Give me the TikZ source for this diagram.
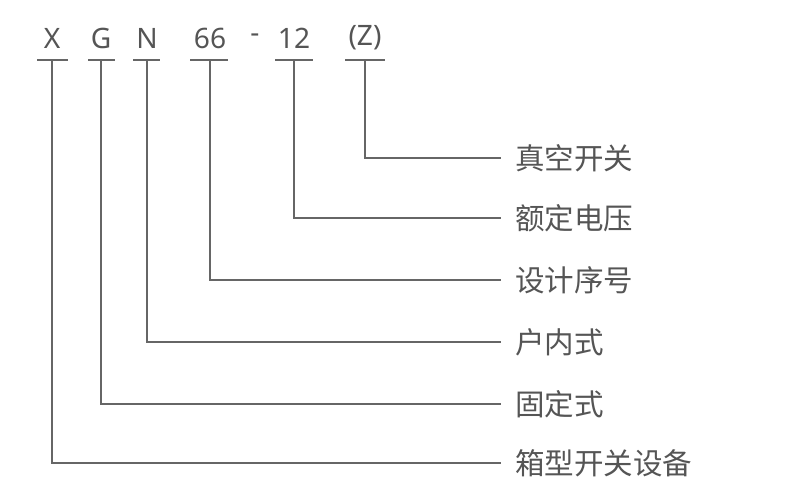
\documentclass[tikz,border=0pt]{standalone}
\usepackage{fontspec}
\setmainfont{Noto Sans}
\newfontfamily\cjk{Noto Sans CJK SC}
\definecolor{txtgray}{HTML}{555555}
\definecolor{linegray}{HTML}{666666}
\begin{document}
\begin{tikzpicture}[x=0.025cm,y=-0.025cm,
    code/.style={text=txtgray,font=\fontsize{20}{24}\selectfont,inner sep=0pt},
    lbl/.style={text=txtgray,font=\cjk\fontsize{21}{24}\selectfont,anchor=west,inner sep=0pt},
    bar/.style={draw=linegray,line width=0.9pt}]
    \useasboundingbox (0,0) rectangle (800,500);
    % type code
    \node[code] (cx) at (52,38) {X};
    \node[code] (cg) at (101,38) {G};
    \node[code] (cn) at (147,38) {N};
    \node[code] (c66) at (210,38) {66};
    \node[code] (cd) at (255,38) {-};
    \node[code] (c12) at (294,38) {12};
    \node[code] (cz) at (365,38) {(Z)};
    % underlines
    \draw[bar] (37,60) -- (68,60);
    \draw[bar] (88,60) -- (115,60);
    \draw[bar] (133,60) -- (160,60);
    \draw[bar] (190,60) -- (228,60);
    \draw[bar] (275,60) -- (313,60);
    \draw[bar] (345,60) -- (385,60);
    \coordinate (ux) at (52,60);
    \coordinate (ug) at (101,60);
    \coordinate (un) at (147,60);
    \coordinate (u66) at (210,60);
    \coordinate (u12) at (294,60);
    \coordinate (uz) at (365,60);
    % labels
    \node[lbl] (lz) at (515,158) {真空开关};
    \node[lbl] (l12) at (515,218) {额定电压};
    \node[lbl] (l66) at (515,280) {设计序号};
    \node[lbl] (ln) at (515,342) {户内式};
    \node[lbl] (lg) at (515,404) {固定式};
    \node[lbl] (lx) at (515,463) {箱型开关设备};
    % connectors
    \draw[bar] (uz) |- ([xshift=-10]lz.west);
    \draw[bar] (u12) |- ([xshift=-10]l12.west);
    \draw[bar] (u66) |- ([xshift=-10]l66.west);
    \draw[bar] (un) |- ([xshift=-10]ln.west);
    \draw[bar] (ug) |- ([xshift=-10]lg.west);
    \draw[bar] (ux) |- ([xshift=-10]lx.west);
\end{tikzpicture}
\end{document}
